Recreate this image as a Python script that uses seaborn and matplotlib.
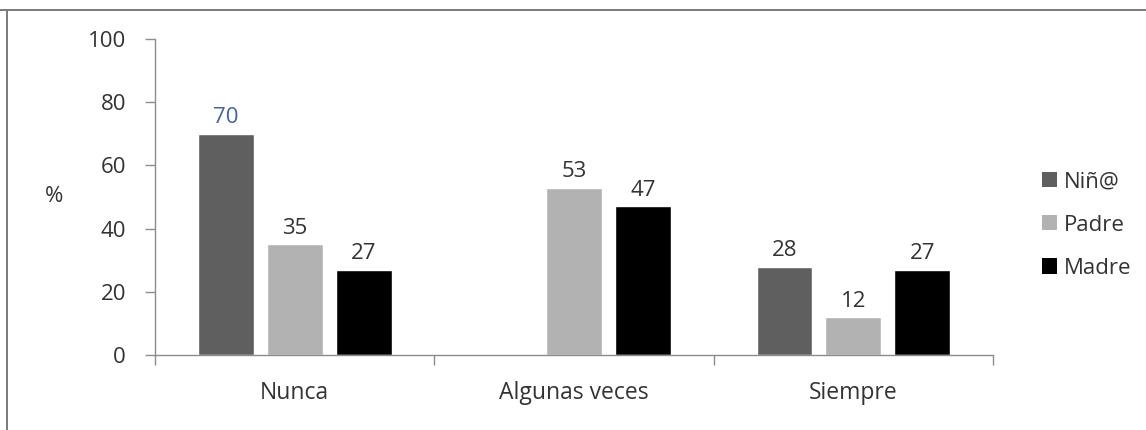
import matplotlib
matplotlib.use("Agg")
import matplotlib.pyplot as plt
from matplotlib.lines import Line2D
from matplotlib.patches import Patch
import seaborn as sns
import pandas as pd

categories = ["Nunca", "Algunas veces", "Siempre"]
series = ["Niñ@", "Padre", "Madre"]
nino = [70, 0, 28]
padre = [35, 53, 12]
madre = [27, 47, 27]
colors = ["#5f5f5f", "#b2b2b2", "#000000"]

df = pd.DataFrame({
    "categoria": categories * 3,
    "grupo": [s for s in series for _ in categories],
    "valor": nino + padre + madre,
})

sns.set_theme(style="white")
plt.rcParams["font.family"] = ["Open Sans", "DejaVu Sans"]

fig = plt.figure(figsize=(11.46, 4.30), dpi=100)
fig.patch.set_facecolor("white")
ax = fig.add_axes([0.1353, 0.1744, 0.7312, 0.7349])

sns.barplot(data=df, x="categoria", y="valor", hue="grupo", order=categories,
            hue_order=series, palette=colors, width=0.74, gap=0.19,
            saturation=1, legend=False, ax=ax)

ax.set_xlim(-0.5, 2.5)
ax.set_ylim(0, 100)
ax.set_yticks([0, 20, 40, 60, 80, 100])
ax.set_xticks([-0.5, 0.5, 1.5, 2.5], minor=False)
ax.set_xticklabels([])
ax.set_xticks([0, 1, 2], minor=True)
ax.set_xticklabels(categories, minor=True)
ax.set_xlabel("")
ax.set_ylabel("")

tick_color = "#333333"
spine_color = "#8c8c8c"
fs = 16
for side in ["top", "right"]:
    ax.spines[side].set_visible(False)
for side in ["left", "bottom"]:
    ax.spines[side].set_color(spine_color)
    ax.spines[side].set_linewidth(1.0)

ax.tick_params(axis="y", which="major", direction="out", length=7, width=1,
               color=spine_color, labelsize=fs, labelcolor=tick_color, pad=14, left=True)
ax.tick_params(axis="x", which="major", direction="out", length=7, width=1,
               color=spine_color, bottom=True)
ax.tick_params(axis="x", which="minor", length=0, labelsize=16.5,
               labelcolor=tick_color, pad=19, bottom=True)

# value labels above bars (no label for empty bars); the first one is highlighted
highlight_color = "#44649a"
for si, container in enumerate(ax.containers):
    for ci, rect in enumerate(container):
        h = rect.get_height()
        if h <= 0:
            continue
        c = highlight_color if (si == 0 and ci == 0) else tick_color
        ax.annotate(f"{h:.0f}", (rect.get_x() + rect.get_width() / 2, h),
                    xytext=(0, 4), textcoords="offset points",
                    ha="center", va="bottom", fontsize=fs, color=c)

fig.text(0.039, 1 - 197 / 430, "%", fontsize=fs, color=tick_color,
         ha="left", va="center")

handles = [Patch(facecolor=c, edgecolor="none") for c in colors]
fig.legend(handles, series, loc="center left",
           bbox_to_anchor=(0.892, 1 - 225 / 430), frameon=False,
           fontsize=fs, labelcolor=tick_color, handlelength=0.68,
           handleheight=0.68, handletextpad=0.3, labelspacing=1.0)

# chart frame lines
fig.add_artist(Line2D([0, 1], [1 - 9.5 / 430] * 2, transform=fig.transFigure,
                      color="#7a7a7a", lw=1.4))
fig.add_artist(Line2D([7 / 1146] * 2, [0, 1 - 9.5 / 430], transform=fig.transFigure,
                      color="#7a7a7a", lw=1.4))

fig.savefig("out.png", dpi=100, facecolor="white")
